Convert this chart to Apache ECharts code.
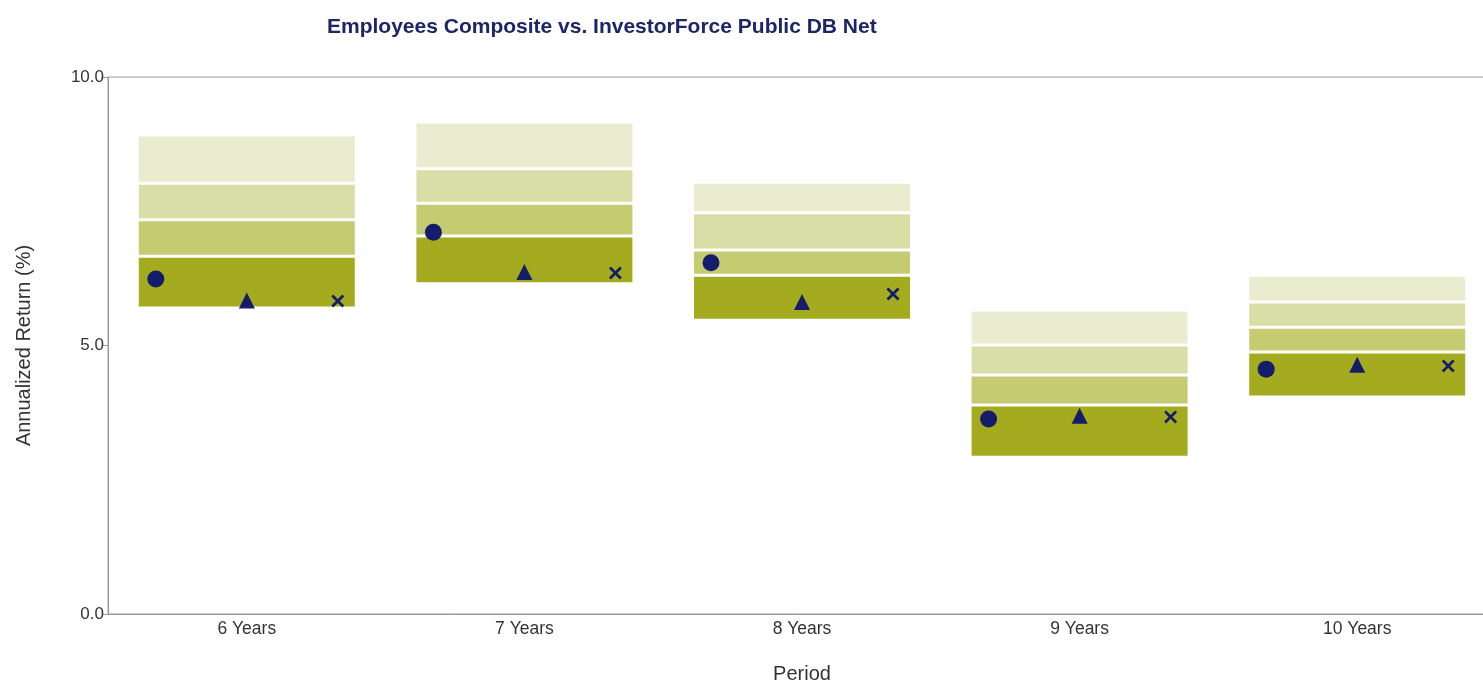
<!DOCTYPE html>
<html>
<head>
<meta charset="utf-8">
<script src="https://cdn.jsdelivr.net/npm/echarts@6/dist/echarts.min.js"></script>
<style>
  html, body { margin: 0; padding: 0; background: #fff; }
  #chart { width: 1483px; height: 683px; }
</style>
</head>
<body>
<div id="chart"></div>
<script>
// Periods and universe percentile bands (5th, 25th, median, 75th, 95th)
const categories = ['6 Years', '7 Years', '8 Years', '9 Years', '10 Years'];
const p5  = [8.92, 9.16, 8.04, 5.66, 6.31];
const p25 = [8.02, 8.29, 7.47, 5.01, 5.81];
const p50 = [7.34, 7.65, 6.78, 4.45, 5.34];
const p75 = [6.66, 7.04, 6.31, 3.89, 4.88];
const p95 = [5.70, 6.15, 5.47, 2.92, 4.04];

// Plotted returns
const circleVals   = [6.24, 7.11, 6.54, 3.63, 4.56];
const triangleVals = [5.84, 6.37, 5.81, 3.69, 4.64];
const crossVals    = [5.83, 6.35, 5.96, 3.67, 4.62];

const navy = '#141d6a';
const bandColors = ['#a4ab1e', '#c5cb70', '#d9dda6', '#e9ecce'];
const crossPath = 'path://M3,0 L10,7 L17,0 L20,3 L13,10 L20,17 L17,20 L10,13 L3,20 L0,17 L7,10 L0,3 Z';

const diff = (hi, lo) => hi.map((v, i) => +(v - lo[i]).toFixed(2));

const chart = echarts.init(document.getElementById('chart'));

function band(name, data, color) {
    return {
        name: name,
        type: 'bar',
        stack: 'range',
        barWidth: 219,
        data: data,
        itemStyle: { color: color, borderColor: '#fff', borderWidth: 1.5 },
        silent: true
    };
}

function marker(name, data, symbol, size, offset) {
    return {
        name: name,
        type: 'scatter',
        data: data,
        symbol: symbol,
        symbolSize: size,
        symbolOffset: [offset, 0],
        itemStyle: { color: navy, opacity: 1 },
        z: 10
    };
}

chart.setOption({
    animation: false,
    title: {
        text: 'Employees Composite vs. InvestorForce Public DB Net',
        left: 322,
        top: 12,
        textStyle: {
            fontFamily: 'Liberation Sans, sans-serif',
            fontWeight: 'bold',
            fontSize: 21,
            color: '#1c2566'
        }
    },
    grid: {
        left: 108, right: -13, top: 77, bottom: 69,
        outerBoundsMode: 'none',
        containLabel: false,
        show: true, borderColor: '#9a9a9a', borderWidth: 1
    },
    xAxis: {
        type: 'category',
        data: categories,
        name: 'Period',
        nameLocation: 'middle',
        nameGap: 50,
        nameTextStyle: { fontFamily: 'Liberation Sans', fontSize: 20, color: '#333' },
        axisLine: { lineStyle: { color: '#9a9a9a' } },
        axisTick: { show: false },
        axisLabel: { margin: 6, fontFamily: 'Liberation Sans', fontSize: 17.5, color: '#333' }
    },
    yAxis: {
        type: 'value',
        min: 0, max: 10, interval: 5,
        name: 'Annualized Return (%)',
        nameLocation: 'middle',
        nameGap: 74,
        nameRotate: 90,
        nameTextStyle: { fontFamily: 'Liberation Sans', fontSize: 20, color: '#333' },
        axisLine: { show: true, lineStyle: { color: '#9a9a9a' } },
        axisTick: { show: true, length: 6, lineStyle: { color: '#9a9a9a' } },
        splitLine: { show: false },
        axisLabel: {
            margin: 4,
            fontFamily: 'Liberation Sans',
            fontSize: 17,
            color: '#333',
            formatter: v => v.toFixed(1)
        }
    },
    series: [
        {
            name: 'base', type: 'bar', stack: 'range', barWidth: 219,
            data: p95, itemStyle: { color: 'transparent' }, silent: true
        },
        band('75th to 95th', diff(p75, p95), bandColors[0]),
        band('Median to 75th', diff(p50, p75), bandColors[1]),
        band('25th to Median', diff(p25, p50), bandColors[2]),
        band('5th to 25th', diff(p5, p25), bandColors[3]),
        marker('Composite', circleVals, 'circle', 17, -91),
        marker('Policy', triangleVals, 'triangle', 16, 0),
        marker('Benchmark', crossVals, crossPath, 13, 91)
    ]
});
</script>
</body>
</html>
